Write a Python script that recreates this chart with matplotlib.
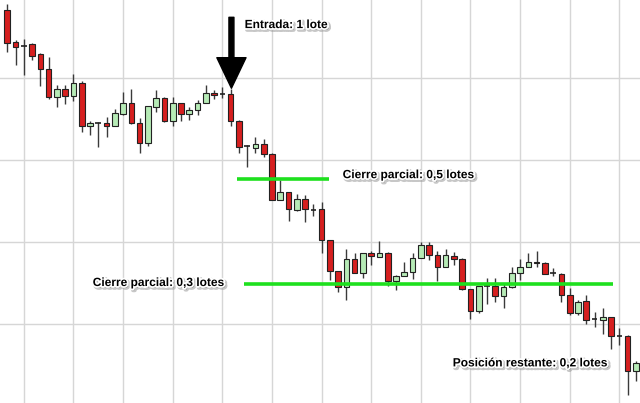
import numpy as np
import matplotlib.pyplot as plt
import matplotlib.patheffects as pe
from matplotlib.patches import Rectangle

plt.rcParams["font.family"] = ["Liberation Sans", "DejaVu Sans"]

# OHLC (price units, gridlines every 10)
opens = [48.3, 44.4, 43.9, 44.1, 42.9, 41.1, 37.7, 38.7, 37.8, 39.4,
         34.1, 34.5, 34.5, 34.2, 35.6, 37.0, 34.5, 32.1, 36.5, 37.6,
         34.7, 36.9, 35.6, 36.1, 36.9, 38.2, 38.0, 38.0, 34.8, 31.7,
         31.5, 31.9, 30.7, 25.1, 26.1, 23.9, 25.3, 23.9, 24.0, 20.2,
         16.5, 14.5, 17.9, 16.2, 18.6, 18.2, 18.7, 15.3, 15.9, 16.3,
         18.1, 19.6, 18.4, 16.9, 18.3, 17.9, 14.3, 11.6, 14.6, 14.6,
         13.4, 14.5, 16.2, 16.9, 17.6, 17.5, 16.2, 16.1, 13.6, 11.3,
         12.8, 10.6, 10.5, 10.8, 8.5, 8.6, 4.3]
highs = [49.0, 44.6, 44.7, 44.3, 43.0, 42.6, 39.1, 39.1, 40.5, 39.6,
         34.7, 34.6, 35.2, 36.2, 38.3, 38.6, 35.1, 36.6, 38.5, 37.7,
         37.7, 37.0, 36.5, 37.3, 39.1, 38.5, 38.9, 38.6, 34.9, 31.8,
         32.8, 32.6, 30.8, 27.6, 26.1, 25.8, 25.7, 24.6, 24.9, 20.2,
         16.5, 19.1, 18.7, 18.7, 18.9, 20.1, 18.8, 16.0, 17.6, 18.6,
         20.0, 20.0, 18.9, 19.2, 18.8, 18.0, 14.3, 14.6, 15.6, 15.6,
         15.0, 17.0, 17.9, 18.7, 18.9, 17.6, 16.8, 16.2, 14.4, 12.9,
         13.5, 11.5, 11.9, 10.8, 9.5, 8.7, 5.5]
lows = [43.2, 41.6, 40.4, 42.2, 39.0, 37.4, 36.5, 36.8, 37.2, 33.4,
        33.0, 31.6, 32.8, 34.1, 35.5, 34.4, 30.9, 31.7, 35.9, 34.6,
        34.1, 34.7, 34.9, 35.5, 36.9, 37.4, 37.5, 34.1, 30.9, 29.2,
        30.9, 30.4, 25.1, 25.1, 22.6, 23.8, 22.4, 23.2, 18.6, 15.4,
        13.9, 12.9, 16.2, 15.6, 17.2, 18.2, 14.6, 14.1, 15.8, 15.5,
        18.1, 17.8, 15.2, 16.9, 17.2, 14.1, 10.6, 11.3, 12.4, 12.7,
        11.9, 14.4, 15.4, 16.9, 16.9, 16.1, 15.9, 12.7, 11.1, 11.1,
        10.0, 9.6, 8.8, 7.0, 7.4, 1.3, 3.0]
closes = [44.3, 43.8, 43.9, 42.7, 41.1, 37.7, 38.7, 37.8, 39.4, 34.1,
          34.5, 34.5, 34.2, 35.7, 37.0, 34.5, 32.1, 36.6, 37.5, 34.7,
          36.9, 35.6, 36.1, 36.9, 38.2, 37.9, 38.0, 34.7, 31.6, 31.7,
          31.9, 30.7, 25.1, 26.1, 24.0, 25.3, 24.0, 23.9, 20.2, 16.5,
          14.5, 17.9, 16.2, 18.6, 18.3, 18.7, 15.3, 15.9, 16.3, 18.1,
          19.6, 18.4, 16.9, 18.4, 17.9, 14.3, 11.6, 14.6, 14.6, 13.4,
          14.5, 16.2, 16.9, 17.6, 17.4, 16.1, 16.2, 13.6, 11.3, 12.7,
          10.5, 10.6, 10.8, 8.5, 8.5, 4.3, 5.2]

entry_bar = 27
partial_levels = [27.65, 14.82]
partial_spans = [(27.8, 38.9), (28.6, 73.2)]

labels = ["Entrada: 1 lote", "Cierre parcial: 0,5 lotes",
          "Cierre parcial: 0,3 lotes", "Posición restante: 0,2 lotes"]
label_pos = [(28.7, 46.45), (40.55, 28.15), (10.33, 15.0), (53.86, 5.2)]

RED = "#d61f1f"
GREEN = "#b6ebb6"

fig = plt.figure(figsize=(6.4, 4.03), dpi=100)
ax = fig.add_axes([0, 0, 1, 1])

n = len(opens)
x = np.arange(n)
ax.set_xlim(-0.883, 76.5)
ax.set_ylim(0.37, 49.51)

# grid
for gx in range(2, n, 6):
    ax.axvline(gx, color="#d6d6d6", lw=1.0, zorder=0)
for gy in [10, 20, 30, 40]:
    ax.axhline(gy, color="#d6d6d6", lw=1.0, zorder=0)

w = 0.68
for i in range(n):
    o, h, l, c = opens[i], highs[i], lows[i], closes[i]
    ax.vlines(x[i], l, h, color="#3a3a3a", lw=1.0, zorder=2)
    if o == c:
        ax.hlines(o, x[i] - w / 2, x[i] + w / 2, color="#222222", lw=1.2, zorder=3)
        continue
    face = GREEN if c > o else RED
    ax.add_patch(Rectangle((x[i] - w / 2, min(o, c)), w, abs(c - o),
                           facecolor=face, edgecolor="#222222", lw=0.8, zorder=3))

# partial close lines
for lvl, (x0, x1) in zip(partial_levels, partial_spans):
    ax.hlines(lvl, x0, x1, color="#1ee01e", lw=2.6, zorder=4)

# entry arrow
ax.annotate("", xy=(entry_bar + 0.1, highs[entry_bar] + 0.15),
            xytext=(entry_bar + 0.1, 47.4),
            arrowprops=dict(arrowstyle="simple,head_length=2.2,head_width=2.1,tail_width=0.36",
                            color="black", shrinkA=0, shrinkB=0), zorder=5)

effects = [pe.Stroke(linewidth=3, foreground="#999999", alpha=0.55, offset=(1.2, -1.2)),
           pe.Stroke(linewidth=2.5, foreground="white"),
           pe.Normal()]
for txt, (tx, ty) in zip(labels, label_pos):
    ax.text(tx, ty, txt, ha="left", va="center", fontsize=8.6,
            fontweight="bold", color="black", path_effects=effects, zorder=6)

for s in ax.spines.values():
    s.set_visible(False)
ax.set_xticks([])
ax.set_yticks([])

fig.savefig("out.png", dpi=100)
